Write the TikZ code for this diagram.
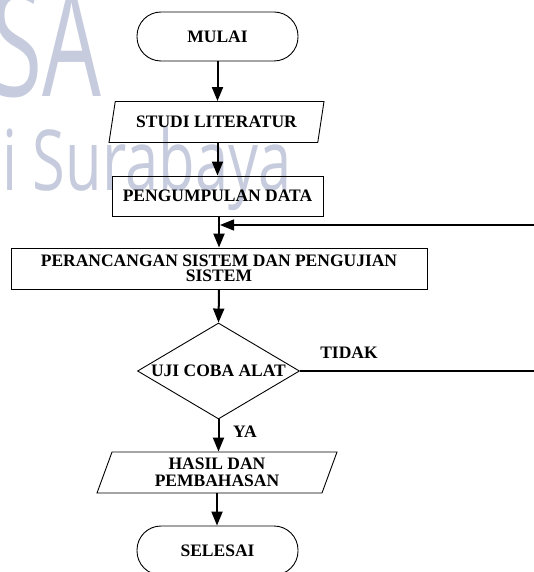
\documentclass[tikz,border=0pt]{standalone}
\usepackage{fontspec}
\setmainfont{Liberation Serif}
\newfontfamily\wmfont{Open Sans}
\usetikzlibrary{shapes.geometric,arrows.meta}
\newcommand\flfont{\fontsize{17.5}{16.5}\selectfont\bfseries}
\definecolor{wm}{RGB}{198,204,221}
\begin{document}
\begin{tikzpicture}[x=1pt,y=-1pt,
  box/.style={draw, line width=0.9pt, inner sep=0pt, font=\flfont, align=center},
  term/.style={box, rectangle, rounded corners=24pt, minimum width=161pt, minimum height=49pt},
  proc/.style={box, rectangle, minimum height=41pt},
  io/.style={box, trapezium, trapezium left angle=62, trapezium right angle=118, trapezium stretches body, minimum height=41pt},
  dec/.style={box, diamond, aspect=1.667, minimum width=162pt, minimum height=96pt},
  arr/.style={line width=2pt, -{Triangle[length=14pt,width=11pt]}},
  fb/.style={line width=1.3pt, -{Triangle[length=14pt,width=11pt]}},
  lbl/.style={font=\flfont, inner sep=0pt},
  wmtext/.style={text=wm, inner sep=0pt},
]
\clip (0,0) rectangle (534,572);
\fill[white] (0,0) rectangle (534,572);
% watermark
\node[wmtext, anchor=base east] (wmA) at (102,97) {\wmfont\fontsize{150}{150}\selectfont\scalebox{0.62}[1]{SA}};
\node[wmtext, anchor=base west] (wmB) at (2,190) {\wmfont\fontsize{84}{84}\selectfont\scalebox{0.71}[1]{i Surabaya}};
% nodes
\node[term] (m) at (217.5,36.5) {MULAI};
\node[io, minimum width=215pt] (s) at (216.5,122) {STUDI LITERATUR};
\node[proc, minimum width=211pt, minimum height=40pt] (p) at (217.5,196) {PENGUMPULAN DATA};
\node[proc, minimum width=416pt] (r) at (219,268.5) {PERANCANGAN SISTEM DAN PENGUJIAN\\[-2pt]SISTEM};
\node[dec] (d) at (218.5,371) {UJI COBA ALAT};
\node[io, minimum width=240pt] (h) at (217,472.5) {HASIL DAN\\PEMBAHASAN};
\node[term] (e) at (217.5,550.5) {SELESAI};
\node[lbl] (tidak) at (349,352.5) {TIDAK};
\node[lbl] (ya) at (245,431.5) {YA};
\coordinate (j) at (220,225);
% connectors
\draw[arr] (m.south) -- (m.south |- s.north);
\draw[arr] (s.south) -- (s.south -| p.north) -- (p.north);
\draw[arr] (p.south -| r.north) -- (r.north);
\draw[arr] (r.south) -- (d.north);
\draw[arr] (d.south) -- (d.south |- h.north);
\draw[arr] (h.south) -- (h.south |- e.north);
\draw[fb] (d.east) -- ++(270,0) |- (j);
\end{tikzpicture}
\end{document}
